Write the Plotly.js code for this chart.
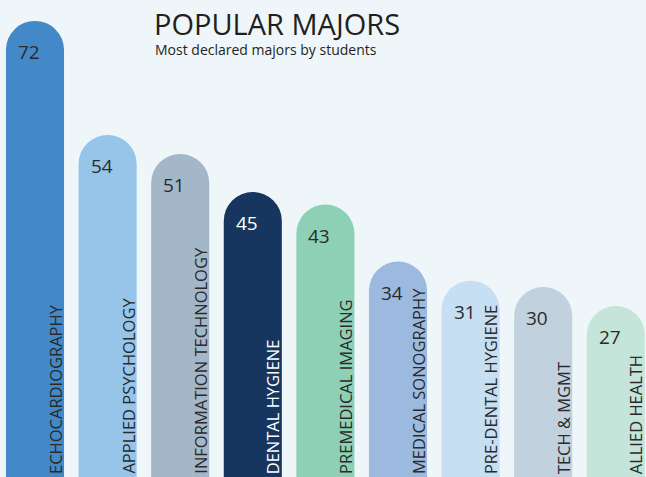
<!DOCTYPE html>
<html>
<head>
<meta charset="utf-8">
<script src="https://cdn.plot.ly/plotly-3.0.1.min.js"></script>
<style>
html,body{margin:0;padding:0;background:#eef6f9;}
#chart{width:646px;height:477px;}
</style>
</head>
<body>
<div id="chart"></div>
<script>
const majors = ["ECHOCARDIOGRAPHY","APPLIED PSYCHOLOGY","INFORMATION TECHNOLOGY","DENTAL HYGIENE","PREMEDICAL IMAGING","MEDICAL SONOGRAPHY","PRE-DENTAL HYGIENE","TECH & MGMT","ALLIED HEALTH"];
const students = [72, 54, 51, 45, 43, 34, 31, 30, 27];
const barColors = ["#4389c8","#97c5ea","#a3b7c8","#17365f","#8ed0b6","#9cb9df","#c7dff3","#c2d1de","#c5e5db"];
const textColors = ["#2a2a2a","#2a2a2a","#2a2a2a","#ffffff","#2a2a2a","#2a2a2a","#2a2a2a","#2a2a2a","#2a2a2a"];
const subtitleText = "Most declared majors by students";

const FONT = "Open Sans, Noto Sans, sans-serif";

const trace = {
  type: "bar",
  x: majors,
  y: students,
  width: 0.8,
  marker: {color: barColors, cornerradius: "50%", line: {width: 0}},
  hoverinfo: "x+y"
};

const annotations = [];
majors.forEach((m, i) => {
  annotations.push({
    x: m, y: students[i], xref: "x", yref: "y",
    text: String(students[i]), showarrow: false,
    xanchor: "center", yanchor: "middle",
    xshift: -6, yshift: -31,
    font: {family: FONT, size: 19, color: textColors[i]}
  });
  annotations.push({
    x: m, y: 0, xref: "x", yref: "y",
    text: m, showarrow: false, textangle: -90,
    xanchor: "center", yanchor: "bottom",
    xshift: 20, yshift: 1,
    font: {family: FONT, size: 16.5, color: textColors[i]}
  });
});
annotations.push({
  xref: "paper", yref: "paper", x: 153/646, y: 1 - 38/477,
  xanchor: "left", yanchor: "top", showarrow: false,
  text: subtitleText,
  font: {family: FONT, size: 14, color: "#231f20"}
});

const layout = {
  width: 646, height: 477,
  margin: {l: 0, r: 0, t: 0, b: 0, pad: 0},
  paper_bgcolor: "#eef6f9",
  plot_bgcolor: "#eef6f9",
  showlegend: false,
  title: {
    text: "POPULAR MAJORS",
    xref: "container", yref: "container",
    x: 154/646, xanchor: "left",
    y: 1 - 15/477, yanchor: "top",
    font: {family: FONT, size: 29, color: "#231f20"}
  },
  xaxis: {type: "category", range: [-0.482, 8.416], showgrid: false, zeroline: false, showticklabels: false, ticks: "", showline: false, fixedrange: true},
  yaxis: {range: [0, 75.3], showgrid: false, zeroline: false, showticklabels: false, ticks: "", showline: false, fixedrange: true},
  annotations: annotations
};

Plotly.newPlot("chart", [trace], layout, {displayModeBar: false, staticPlot: true});
</script>
</body>
</html>
